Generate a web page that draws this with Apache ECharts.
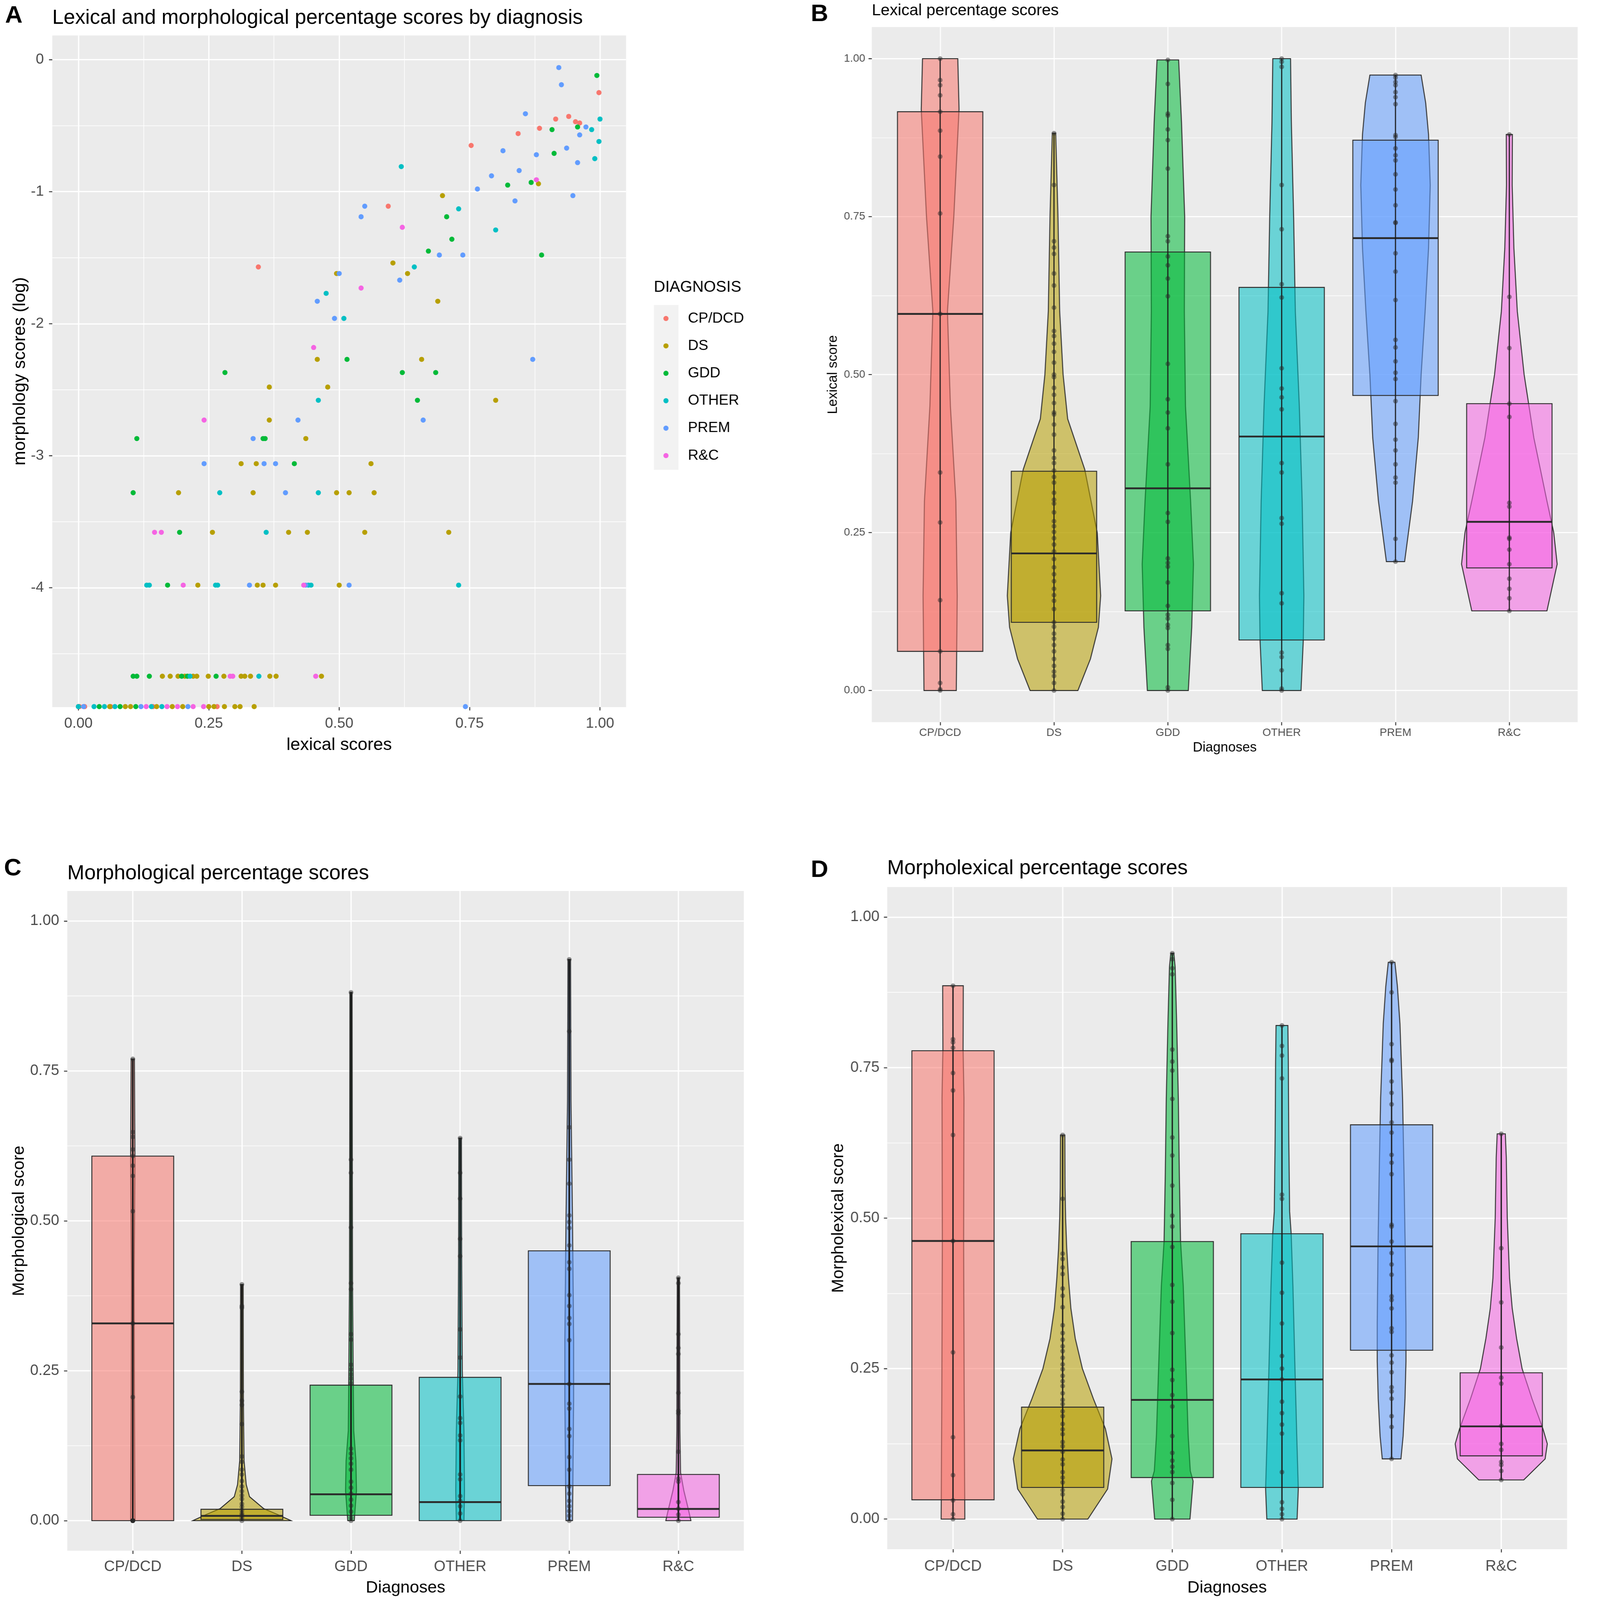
<!DOCTYPE html>
<html lang="en">
<head>
<meta charset="UTF-8">
<title>Lexical and morphological percentage scores by diagnosis</title>
<script src="https://cdn.jsdelivr.net/npm/echarts@6.0.0/dist/echarts.min.js"></script>
<style>
  html, body { margin: 0; padding: 0; background: #fff; overflow: hidden; }
  #chart { width: 4317px; height: 4376px; transform-origin: 0 0; }
</style>
</head>
<body>
<div id="chart"></div>
<script>
var diagnoses = ['CP/DCD', 'DS', 'GDD', 'OTHER', 'PREM', 'R&C'];
var palette = ['#F8766D', '#B79F00', '#00BA38', '#00BFC4', '#619CFF', '#F564E3'];

// A: [lexical score, log morphology score], zero morphology drawn on the floor (-4.9)
var scatterCP = [[0.998,-0.25],[0.940,-0.43],[0.915,-0.45],[0.953,-0.47],[0.961,-0.48],[0.884,-0.52],[0.843,-0.56],[0.753,-0.65],[0.594,-1.11],[0.345,-1.57],[0.266,-4.9],[0.143,-4.9],[0.062,-4.9],[0.012,-4.9],[0.002,-4.9],[0.0,-4.9]];
var scatterDS = [[0.882,-0.94],[0.698,-1.03],[0.603,-1.54],[0.631,-1.62],[0.495,-1.62],[0.689,-1.83],[0.458,-2.27],[0.658,-2.27],[0.366,-2.48],[0.478,-2.48],[0.800,-2.58],[0.366,-2.73],[0.436,-2.87],[0.312,-3.06],[0.341,-3.06],[0.561,-3.06],[0.192,-3.28],[0.335,-3.28],[0.495,-3.28],[0.519,-3.28],[0.567,-3.28],[0.257,-3.58],[0.403,-3.58],[0.439,-3.58],[0.549,-3.58],[0.710,-3.58],[0.229,-3.98],[0.343,-3.98],[0.354,-3.98],[0.378,-3.98],[0.500,-3.98],[0.161,-4.67],[0.176,-4.67],[0.191,-4.67],[0.204,-4.67],[0.220,-4.67],[0.227,-4.67],[0.249,-4.67],[0.279,-4.67],[0.312,-4.67],[0.319,-4.67],[0.330,-4.67],[0.367,-4.67],[0.379,-4.67],[0.466,-4.67],[0.06,-4.9],[0.09,-4.9],[0.10,-4.9],[0.15,-4.9],[0.18,-4.9],[0.20,-4.9],[0.25,-4.9],[0.26,-4.9],[0.28,-4.9],[0.30,-4.9],[0.31,-4.9],[0.337,-4.9]];
var scatterGDD = [[0.994,-0.12],[0.957,-0.51],[0.908,-0.53],[0.912,-0.71],[0.868,-0.93],[0.823,-0.95],[0.706,-1.19],[0.716,-1.36],[0.671,-1.45],[0.888,-1.48],[0.515,-2.27],[0.281,-2.37],[0.621,-2.37],[0.685,-2.37],[0.650,-2.58],[0.112,-2.87],[0.354,-2.87],[0.358,-2.87],[0.414,-3.06],[0.105,-3.28],[0.194,-3.58],[0.171,-3.98],[0.105,-4.67],[0.112,-4.67],[0.136,-4.67],[0.198,-4.67],[0.209,-4.67],[0.264,-4.67],[0.04,-4.9],[0.08,-4.9],[0.11,-4.9]];
var scatterOTHER = [[1.0,-0.45],[0.984,-0.53],[0.998,-0.62],[0.990,-0.75],[0.619,-0.81],[0.729,-1.13],[0.800,-1.29],[0.644,-1.57],[0.475,-1.77],[0.509,-1.96],[0.460,-2.58],[0.271,-3.28],[0.460,-3.28],[0.360,-3.58],[0.131,-3.98],[0.136,-3.98],[0.263,-3.98],[0.267,-3.98],[0.441,-3.98],[0.446,-3.98],[0.729,-3.98],[0.214,-4.67],[0.346,-4.67],[0.0,-4.9],[0.03,-4.9],[0.05,-4.9],[0.07,-4.9],[0.14,-4.9],[0.16,-4.9]];
var scatterPREM = [[0.921,-0.06],[0.926,-0.19],[0.857,-0.41],[0.973,-0.51],[0.961,-0.57],[0.814,-0.69],[0.936,-0.67],[0.878,-0.72],[0.957,-0.78],[0.845,-0.84],[0.792,-0.88],[0.765,-0.98],[0.948,-1.03],[0.837,-1.07],[0.549,-1.11],[0.542,-1.19],[0.692,-1.48],[0.737,-1.48],[0.500,-1.62],[0.616,-1.67],[0.458,-1.83],[0.491,-1.96],[0.871,-2.27],[0.421,-2.73],[0.661,-2.73],[0.335,-2.87],[0.241,-3.06],[0.356,-3.06],[0.378,-3.06],[0.397,-3.28],[0.328,-3.98],[0.436,-3.98],[0.519,-3.98],[0.01,-4.9],[0.12,-4.9],[0.21,-4.9],[0.742,-4.9]];
var scatterRC = [[0.878,-0.91],[0.621,-1.27],[0.542,-1.73],[0.451,-2.18],[0.241,-2.73],[0.146,-3.58],[0.159,-3.58],[0.201,-3.98],[0.432,-3.98],[0.291,-4.67],[0.296,-4.67],[0.455,-4.67],[0.13,-4.9],[0.17,-4.9],[0.19,-4.9],[0.22,-4.9],[0.24,-4.9]];
var scatterA = [scatterCP, scatterDS, scatterGDD, scatterOTHER, scatterPREM, scatterRC];

// B: lexical scores. box = [q1, median, q3], violin = [value, half width], points = values
var lexBox = [[0.062,0.596,0.916],[0.108,0.217,0.347],[0.126,0.320,0.694],[0.080,0.402,0.638],[0.467,0.716,0.871],[0.194,0.267,0.454]];
var lexViolin = [
  [[0,0.142],[0.15,0.15],[0.3,0.138],[0.45,0.09],[0.6,0.064],[0.75,0.12],[0.92,0.166],[1.0,0.155]],
  [[0,0.21],[0.05,0.32],[0.1,0.39],[0.15,0.41],[0.25,0.38],[0.35,0.27],[0.43,0.12],[0.5,0.08],[0.6,0.05],[0.75,0.035],[0.882,0.015]],
  [[0,0.18],[0.1,0.21],[0.2,0.225],[0.3,0.2],[0.45,0.155],[0.6,0.145],[0.75,0.148],[0.9,0.12],[0.998,0.095]],
  [[0,0.17],[0.08,0.19],[0.15,0.195],[0.3,0.18],[0.45,0.155],[0.6,0.12],[0.75,0.105],[0.9,0.085],[1.0,0.078]],
  [[0.204,0.08],[0.3,0.15],[0.4,0.2],[0.5,0.225],[0.6,0.26],[0.7,0.29],[0.8,0.305],[0.88,0.29],[0.93,0.265],[0.974,0.225]],
  [[0.126,0.33],[0.2,0.42],[0.25,0.39],[0.3,0.33],[0.4,0.215],[0.5,0.13],[0.6,0.07],[0.7,0.04],[0.8,0.025],[0.88,0.027]]
];
var lexPoints = [
  [1.0,0.966,0.958,0.942,0.916,0.886,0.845,0.755,0.596,0.345,0.266,0.143,0.062,0.012,0.002,0.0],
  [0.882,0.800,0.711,0.701,0.691,0.660,0.641,0.606,0.569,0.561,0.549,0.536,0.519,0.500,0.496,0.479,0.468,0.455,0.440,0.437,0.421,0.405,0.380,0.368,0.360,0.348,0.338,0.329,0.313,0.302,0.296,0.282,0.268,0.260,0.251,0.241,0.231,0.220,0.208,0.195,0.184,0.173,0.161,0.151,0.142,0.129,0.108,0.101,0.090,0.082,0.072,0.062,0.050,0.039,0.030,0.023,0.012,0.0],
  [0.998,0.960,0.913,0.910,0.888,0.871,0.826,0.719,0.711,0.687,0.673,0.652,0.624,0.517,0.461,0.440,0.415,0.358,0.281,0.267,0.209,0.202,0.196,0.171,0.134,0.120,0.114,0.104,0.099,0.072,0.066,0.005,0.0],
  [1.0,0.995,0.987,0.800,0.730,0.643,0.622,0.510,0.478,0.464,0.445,0.360,0.345,0.273,0.264,0.154,0.138,0.060,0.053,0.032,0.003,0.0],
  [0.974,0.970,0.963,0.958,0.947,0.939,0.928,0.879,0.876,0.858,0.847,0.839,0.817,0.793,0.768,0.741,0.740,0.692,0.663,0.618,0.555,0.543,0.521,0.503,0.493,0.458,0.422,0.397,0.380,0.358,0.337,0.329,0.240,0.204],
  [0.880,0.623,0.542,0.454,0.433,0.297,0.291,0.242,0.240,0.223,0.200,0.177,0.161,0.146,0.126]
];

// C: morphological scores
var morphBox = [[0.0,0.329,0.608],[0.002,0.008,0.019],[0.009,0.044,0.226],[0.0,0.031,0.239],[0.0585,0.228,0.45],[0.0057,0.0195,0.077]];
var morphViolin = [
  [[0,0.02],[0.2,0.015],[0.4,0.012],[0.6,0.02],[0.77,0.015]],
  [[0,0.45],[0.01,0.33],[0.02,0.2],[0.04,0.07],[0.06,0.04],[0.1,0.02],[0.2,0.014],[0.394,0.012]],
  [[0,0.03],[0.05,0.05],[0.1,0.045],[0.15,0.025],[0.25,0.02],[0.4,0.014],[0.6,0.012],[0.881,0.01]],
  [[0,0.035],[0.05,0.04],[0.15,0.035],[0.25,0.02],[0.45,0.014],[0.638,0.012]],
  [[0,0.03],[0.1,0.035],[0.2,0.04],[0.3,0.04],[0.4,0.035],[0.5,0.03],[0.7,0.016],[0.936,0.012]],
  [[0,0.115],[0.02,0.09],[0.05,0.05],[0.08,0.02],[0.15,0.014],[0.3,0.012],[0.405,0.01]]
];
var morphPoints = [
  [0.770,0.648,0.640,0.619,0.608,0.592,0.575,0.516,0.329,0.206,0,0,0,0,0,0],
  [0.394,0.358,0.355,0.215,0.200,0.193,0.161,0.107,0.098,0.085,0.077,0.066,0.057,0.049,0.042,0.036,0.028,0.023,0.017,0.012,0.009,0.005,0.0],
  [0.881,0.602,0.580,0.489,0.396,0.386,0.311,0.302,0.260,0.252,0.244,0.237,0.229,0.120,0.112,0.104,0.095,0.085,0.065,0.055,0.045,0.035,0.025,0.015,0.005,0.0],
  [0.638,0.580,0.537,0.470,0.441,0.319,0.272,0.207,0.171,0.163,0.142,0.134,0.077,0.069,0.041,0.033,0.024,0.012,0.0],
  [0.936,0.816,0.656,0.602,0.562,0.509,0.498,0.488,0.459,0.431,0.420,0.376,0.358,0.338,0.328,0.301,0.228,0.195,0.187,0.153,0.141,0.106,0.085,0.057,0.045,0.033,0.024,0.016,0.008,0.0],
  [0.405,0.396,0.311,0.288,0.278,0.213,0.183,0.179,0.115,0.070,0.065,0.031,0.020,0.010,0.0]
];

// D: morpholexical scores
var mlBox = [[0.032,0.462,0.778],[0.0525,0.114,0.186],[0.069,0.198,0.461],[0.0525,0.232,0.474],[0.2805,0.453,0.655],[0.105,0.154,0.243]];
var mlViolin = [
  [[0,0.108],[0.2,0.102],[0.46,0.097],[0.7,0.1],[0.78,0.092],[0.886,0.094]],
  [[0,0.23],[0.05,0.41],[0.1,0.45],[0.15,0.39],[0.2,0.28],[0.25,0.18],[0.3,0.115],[0.35,0.075],[0.4,0.053],[0.45,0.037],[0.5,0.027],[0.55,0.022],[0.638,0.02]],
  [[0,0.161],[0.063,0.19],[0.08,0.164],[0.138,0.145],[0.262,0.123],[0.387,0.10],[0.462,0.075],[0.574,0.064],[0.699,0.055],[0.823,0.04],[0.917,0.026],[0.94,0.014]],
  [[0,0.138],[0.05,0.149],[0.138,0.135],[0.262,0.117],[0.387,0.10],[0.474,0.084],[0.511,0.07],[0.636,0.062],[0.76,0.058],[0.82,0.054]],
  [[0.1,0.085],[0.138,0.105],[0.2,0.122],[0.262,0.131],[0.325,0.131],[0.449,0.124],[0.574,0.113],[0.699,0.10],[0.76,0.088],[0.823,0.076],[0.885,0.053],[0.925,0.03]],
  [[0.065,0.205],[0.1,0.40],[0.125,0.42],[0.15,0.38],[0.2,0.28],[0.25,0.19],[0.3,0.14],[0.35,0.1],[0.4,0.076],[0.5,0.055],[0.6,0.046],[0.64,0.037]]
];
var mlPoints = [
  [0.886,0.797,0.792,0.783,0.741,0.712,0.638,0.462,0.277,0.136,0.073,0.031,0.008,0.0],
  [0.638,0.532,0.441,0.432,0.418,0.407,0.383,0.371,0.352,0.322,0.309,0.298,0.287,0.279,0.268,0.257,0.249,0.238,0.229,0.221,0.209,0.198,0.191,0.179,0.171,0.158,0.149,0.141,0.128,0.121,0.112,0.099,0.091,0.078,0.069,0.061,0.048,0.041,0.029,0.020,0.009,0.0],
  [0.940,0.930,0.915,0.905,0.780,0.760,0.745,0.698,0.634,0.604,0.554,0.504,0.486,0.452,0.389,0.361,0.309,0.248,0.231,0.206,0.187,0.138,0.110,0.097,0.087,0.078,0.060,0.032,0.0],
  [0.820,0.786,0.770,0.732,0.539,0.532,0.426,0.376,0.325,0.271,0.250,0.232,0.195,0.176,0.157,0.142,0.078,0.028,0.017,0.008,0.0],
  [0.925,0.875,0.789,0.763,0.761,0.727,0.708,0.689,0.659,0.642,0.605,0.592,0.573,0.489,0.486,0.461,0.442,0.423,0.406,0.370,0.364,0.350,0.317,0.311,0.272,0.260,0.244,0.219,0.212,0.200,0.171,0.153,0.100],
  [0.640,0.450,0.360,0.285,0.235,0.225,0.155,0.125,0.115,0.095,0.090,0.080,0.065]
];

var pctTicks = [0, 0.25, 0.5, 0.75, 1];
var pctMinor = [0.125, 0.375, 0.625, 0.875];
var lexTicksA = [0, 0.25, 0.5, 0.75, 1];
var lexMinorA = [0.125, 0.375, 0.625, 0.875];
var logTicksA = [-4, -3, -2, -1, 0];
var logMinorA = [-4.5, -3.5, -2.5, -1.5, -0.5];
var catTicks = [1, 2, 3, 4, 5, 6];

var font = '"Liberation Sans", Arial, sans-serif';
var boxHalf = 0.375;

function rgba(hex, a) {
  var n = parseInt(hex.slice(1), 16);
  return 'rgba(' + (n >> 16) + ',' + ((n >> 8) & 255) + ',' + (n & 255) + ',' + a + ')';
}

function mainAxis(grid, min, max, ticks, fmt, o) {
  return {
    type: 'value', gridIndex: grid, min: min, max: max,
    axisLine: { show: false, onZero: false },
    axisTick: { show: true, customValues: ticks, length: 9, lineStyle: { color: '#333333', width: 2.5 } },
    axisLabel: { customValues: ticks, formatter: fmt, color: '#4D4D4D', fontSize: o.fs, margin: o.margin, fontFamily: font },
    splitLine: { show: true, lineStyle: { color: '#ffffff', width: o.major } },
    name: o.name, nameLocation: 'middle', nameGap: o.gap,
    nameTextStyle: { fontSize: o.nameFs, color: '#000', fontFamily: font }
  };
}

function minorAxis(grid, min, max, ticks, width) {
  return {
    type: 'value', gridIndex: grid, min: min, max: max,
    axisLine: { show: false, onZero: false },
    axisTick: { show: false, customValues: ticks },
    axisLabel: { show: false },
    splitLine: { show: true, lineStyle: { color: '#ffffff', width: width } }
  };
}

function fix2(v) { return v.toFixed(2); }
function catName(v) { return diagnoses[Math.round(v) - 1]; }

function violinBox(boxes, violins, points, gx, gy, stemWidth) {
  return {
    type: 'custom', xAxisIndex: gx, yAxisIndex: gy, clip: true, z: 2, silent: true,
    data: boxes.map(function (b, i) { return [i + 1, b[1]]; }),
    encode: { x: 0, y: 1 },
    renderItem: function (params, api) {
      var i = params.dataIndex, cx = i + 1, prof = violins[i], b = boxes[i];
      var outline = [];
      prof.forEach(function (p) { outline.push(api.coord([cx + p[1], p[0]])); });
      for (var k = prof.length - 1; k >= 0; k--) {
        outline.push(api.coord([cx - prof[k][1], prof[k][0]]));
      }
      var tl = api.coord([cx - boxHalf, b[2]]), br = api.coord([cx + boxHalf, b[0]]);
      var ml = api.coord([cx - boxHalf, b[1]]), mr = api.coord([cx + boxHalf, b[1]]);
      var lo = api.coord([cx, Math.min.apply(null, points[i])]);
      var hi = api.coord([cx, Math.max.apply(null, points[i])]);
      var fill = rgba(palette[i], 0.55);
      return {
        type: 'group',
        children: [
          { type: 'polygon', shape: { points: outline }, style: { fill: fill, stroke: '#2b2b2b', lineWidth: 2.5 } },
          { type: 'rect', shape: { x: tl[0], y: tl[1], width: br[0] - tl[0], height: br[1] - tl[1] },
            style: { fill: fill, stroke: '#2b2b2b', lineWidth: 2.5 } },
          { type: 'line', shape: { x1: ml[0], y1: ml[1], x2: mr[0], y2: mr[1] }, style: { stroke: '#2b2b2b', lineWidth: 5 } },
          { type: 'line', shape: { x1: lo[0], y1: lo[1], x2: hi[0], y2: hi[1] }, style: { stroke: '#1a1a1a', lineWidth: stemWidth } }
        ]
      };
    }
  };
}

function dotSeries(points, gx, gy) {
  var data = [];
  points.forEach(function (vals, i) {
    vals.forEach(function (v) { data.push([i + 1, v]); });
  });
  return {
    type: 'scatter', xAxisIndex: gx, yAxisIndex: gy, data: data, z: 3, silent: true,
    symbolSize: 13, itemStyle: { color: 'rgba(40,40,40,0.62)' }
  };
}

function label(text, left, top, size, weight) {
  return {
    text: text, left: left, top: top, padding: 0,
    textStyle: { fontSize: size, lineHeight: size, fontWeight: weight || 'normal', color: '#000', fontFamily: font }
  };
}

var gridStyle = { show: true, backgroundColor: '#EBEBEB', borderWidth: 0, containLabel: false };

// the layout is drawn on a 4317 x 4376 sheet; shrink it if the viewport is smaller
var sheetW = 4317, sheetH = 4376;
var fit = Math.min(window.innerWidth / sheetW, window.innerHeight / sheetH, 1) || 1;
var dom = document.getElementById('chart');
if (fit < 0.999) dom.style.transform = 'scale(' + fit + ')';

var chart = echarts.init(dom, null, { devicePixelRatio: (window.devicePixelRatio || 1) * fit });
var option = {
  animation: false,
  backgroundColor: '#ffffff',
  title: [
    label('A', 14, 11, 66, 'bold'),
    label('Lexical and morphological percentage scores by diagnosis', 143, 22, 56),
    label('DIAGNOSIS', 1788, 765, 43),
    label('B', 2217, 7, 66, 'bold'),
    label('Lexical percentage scores', 2384, 8, 44),
    label('C', 11, 2343, 66, 'bold'),
    label('Morphological percentage scores', 184, 2361, 56),
    label('D', 2217, 2347, 66, 'bold'),
    label('Morpholexical percentage scores', 2426, 2348, 56)
  ],
  graphic: [
    { type: 'rect', shape: { x: 1788, y: 834, width: 67, height: 451 }, style: { fill: '#F2F2F2' }, silent: true }
  ],
  legend: {
    data: diagnoses, orient: 'vertical', left: 1809, top: 846,
    icon: 'circle', itemWidth: 14, itemHeight: 14, itemGap: 35,
    textStyle: { fontSize: 40, lineHeight: 40, color: '#000', fontFamily: font, padding: [0, 0, 0, 48] }
  },
  grid: [
    Object.assign({ left: 143, top: 97, width: 1569, height: 1837 }, gridStyle),
    Object.assign({ left: 2384, top: 74, width: 1930, height: 1901 }, gridStyle),
    Object.assign({ left: 184, top: 2437, width: 1850, height: 1804 }, gridStyle),
    Object.assign({ left: 2426, top: 2426, width: 1859, height: 1811 }, gridStyle)
  ],
  xAxis: [
    mainAxis(0, -0.05, 1.05, lexTicksA, fix2, { fs: 40, margin: 25, major: 3.5, name: 'lexical scores', gap: 80, nameFs: 48 }),
    minorAxis(0, -0.05, 1.05, lexMinorA, 1.8),
    mainAxis(1, 0.4, 6.6, catTicks, catName, { fs: 30, margin: 14, major: 3, name: 'Diagnoses', gap: 52, nameFs: 37 }),
    mainAxis(2, 0.4, 6.6, catTicks, catName, { fs: 41, margin: 24, major: 3.5, name: 'Diagnoses', gap: 79, nameFs: 46 }),
    mainAxis(3, 0.4, 6.6, catTicks, catName, { fs: 41, margin: 27, major: 3.5, name: 'Diagnoses', gap: 83, nameFs: 46 })
  ],
  yAxis: [
    mainAxis(0, -4.904, 0.183, logTicksA, function (v) { return String(v); }, { fs: 40, margin: 23, major: 3.5, name: 'morphology scores (log)', gap: 64, nameFs: 48 }),
    minorAxis(0, -4.904, 0.183, logMinorA, 1.8),
    mainAxis(1, -0.05, 1.05, pctTicks, fix2, { fs: 30, margin: 18, major: 3, name: 'Lexical score', gap: 87, nameFs: 37 }),
    minorAxis(1, -0.05, 1.05, pctMinor, 1.5),
    mainAxis(2, -0.05, 1.05, pctTicks, fix2, { fs: 41, margin: 22, major: 3.5, name: 'Morphological score', gap: 108, nameFs: 46 }),
    minorAxis(2, -0.05, 1.05, pctMinor, 1.8),
    mainAxis(3, -0.05, 1.05, pctTicks, fix2, { fs: 41, margin: 21, major: 3.5, name: 'Morpholexical score', gap: 110, nameFs: 46 }),
    minorAxis(3, -0.05, 1.05, pctMinor, 1.8)
  ],
  series: diagnoses.map(function (name, i) {
    return {
      name: name, type: 'scatter', xAxisIndex: 0, yAxisIndex: 0, data: scatterA[i],
      symbolSize: 14, itemStyle: { color: palette[i], opacity: 1 }, z: 3
    };
  }).concat([
    violinBox(lexBox, lexViolin, lexPoints, 2, 2, 3),
    dotSeries(lexPoints, 2, 2),
    violinBox(morphBox, morphViolin, morphPoints, 3, 4, 4.5),
    dotSeries(morphPoints, 3, 4),
    violinBox(mlBox, mlViolin, mlPoints, 4, 6, 3.5),
    dotSeries(mlPoints, 4, 6)
  ])
};
chart.setOption(option);
</script>
</body>
</html>
